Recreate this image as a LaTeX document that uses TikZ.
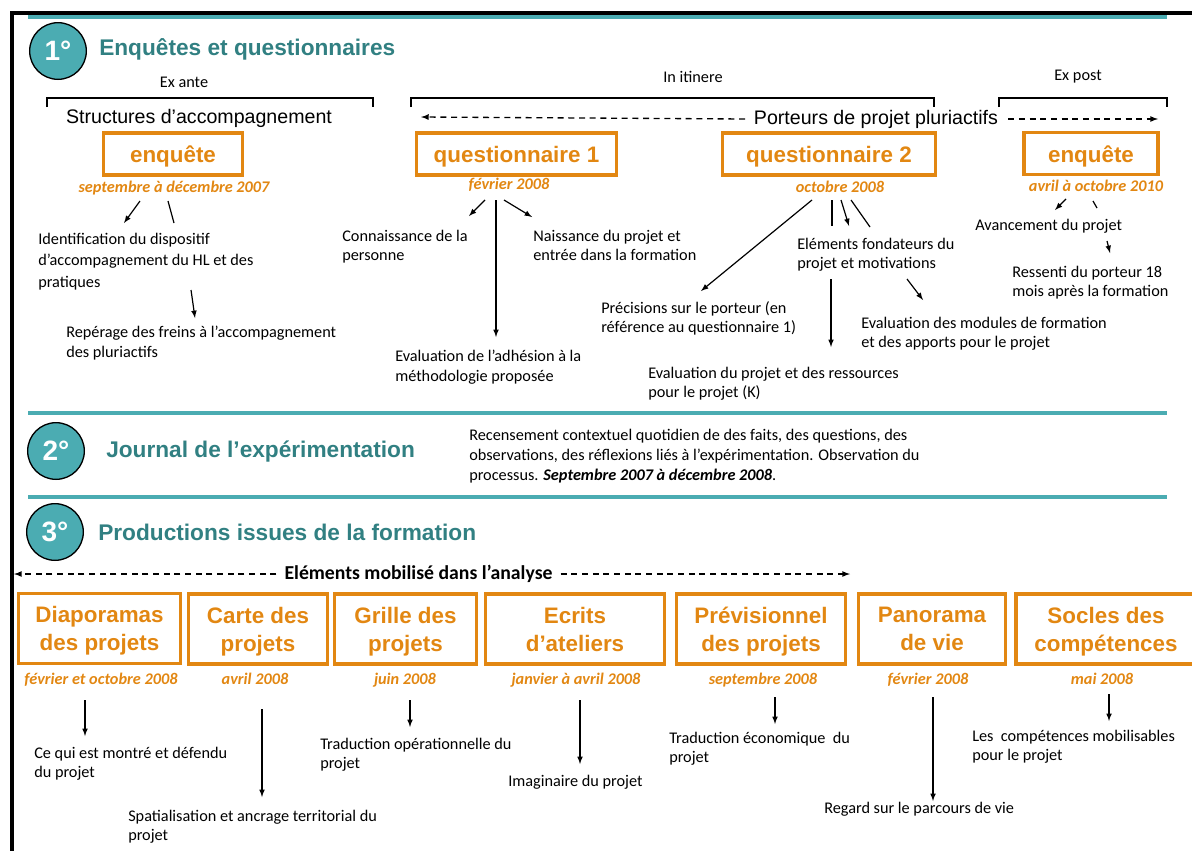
\documentclass[tikz,border=0pt]{standalone}
\usepackage{fontspec}
\setmainfont{Carlito}
\newfontfamily\arialfont{Liberation Sans}
\usetikzlibrary{shapes,arrows,positioning}
\definecolor{orng}{RGB}{226,135,18}
\definecolor{tealc}{RGB}{75,172,178}
\definecolor{tealdk}{RGB}{49,128,130}

\begin{document}
\begin{tikzpicture}[x=0.75pt,y=-0.75pt,
    obox/.style={draw=orng, line width=2.5pt, text=orng, align=center, inner sep=0pt,
        text depth=0pt, font=\arialfont\bfseries\fontsize{16.8}{21}\selectfont},
    datelbl/.style={text=orng, inner sep=0pt, text height=9pt, text depth=2.5pt,
        font=\bfseries\itshape\fontsize{12.2}{14}\selectfont},
    txt/.style={anchor=north west, inner sep=0pt, align=left,
        font=\fontsize{12.2}{14.5}\selectfont},
    numcirc/.style={circle, draw=black, line width=1pt, fill=tealc, text=white,
        minimum size=42.5pt, inner sep=0pt, font=\arialfont\bfseries\fontsize{21}{21}\selectfont},
    sectitle/.style={anchor=west, inner sep=0pt, text=tealdk,
        font=\arialfont\bfseries\fontsize{17}{20}\selectfont},
    arr/.style={-latex, line width=0.9pt},
    lnk/.style={line width=0.9pt},
    dasharr/.style={-latex, line width=1pt, dash pattern=on 4.5pt off 3.5pt},
    sepline/.style={tealc, line width=3pt}]

    \useasboundingbox (0,0) rectangle (1192,850);
    \clip (0,0) rectangle (1192,850);

    % Frame and separators
    \draw[line width=3pt] (12,852) -- (12,12.5) -- (1195,12.5);
    \draw[sepline] (28,17) -- (1167,17);
    \draw[sepline] (28,413) -- (1167,413);
    \draw[sepline] (28,497) -- (1167,497);

    % 1 - Enquetes et questionnaires
    \node[numcirc] (c1) at (58,51) {1°};
    \node[sectitle] (t1) at (99,49) {Enquêtes et questionnaires};

    % Periods
    \node[font=\fontsize{12.2}{14}\selectfont] (exante) at (184,82) {Ex ante};
    \node[font=\fontsize{12.2}{14}\selectfont] (itinere) at (693,77) {In itinere};
    \node[font=\fontsize{12.2}{14}\selectfont] (expost) at (1078,77) {Ex post};
    \draw[line width=1.5pt] (46.5,107) -- (46.5,97.5) -- (373,97.5) -- (373,107);
    \draw[line width=1.5pt] (411,107) -- (411,97.5) -- (934,97.5) -- (934,107);
    \draw[line width=1.5pt] (999,107) -- (999,97.5) -- (1167,97.5) -- (1167,107);

    \node[font=\arialfont\fontsize{14.7}{17}\selectfont, inner sep=0pt] (struct) at (199,118) {Structures d’accompagnement};
    \node[font=\arialfont\fontsize{14.7}{17}\selectfont, inner sep=0pt] (porteurs) at (876,119) {Porteurs de projet pluriactifs};
    \coordinate (portL) at (421,117);
    \coordinate (portR) at (1158,119);
    \draw[dasharr] ([xshift=-6.5pt]porteurs.west) -- (portL);
    \draw[dasharr] ([xshift=7.5pt]porteurs.east) -- (portR);

    % Boxes
    \node[obox, text height=13pt, minimum width=104.25pt, minimum height=31.5pt] (enqA) at (173,154) {enquête};
    \node[obox, text height=13pt, minimum width=150pt, minimum height=31.5pt] (quest1) at (516.5,154) {questionnaire 1};
    \node[obox, text height=13pt, minimum width=159.75pt, minimum height=31.5pt] (quest2) at (829,154) {questionnaire 2};
    \node[obox, text height=13pt, minimum width=100.5pt, minimum height=31.5pt] (enqB) at (1091,153.5) {enquête};

    \node[datelbl] (dA) at (174,188) {septembre à décembre 2007};
    \node[datelbl] (dQ1) at (509,185) {février 2008};
    \node[datelbl] (dQ2) at (840,188) {octobre 2008};
    \node[datelbl] (dB) at (1096,187) {avril à octobre 2010};

    % Contents
    \node[txt] (ident) at (38,233) {Identification du dispositif\\[1pt]d’accompagnement du HL et des\\[2.5pt]pratiques};
    \node[txt] (freins) at (66,326) {Repérage des freins à l’accompagnement\\des pluriactifs};
    \node[txt] (conn) at (342,230) {Connaissance de la\\personne};
    \node[txt] (naiss) at (533,230) {Naissance du projet et\\entrée dans la formation};
    \node[txt] (adh) at (395,350) {Evaluation de l’adhésion à la\\méthodologie proposée};
    \node[txt] (prec) at (601,301) {Précisions sur le porteur (en\\référence au questionnaire 1)};
    \node[txt] (fond) at (797,238) {Eléments fondateurs du\\projet et motivations};
    \node[txt] (modules) at (861,317) {Evaluation des modules de formation\\et des apports pour le projet};
    \node[txt] (evalk) at (648,367) {Evaluation du projet et des ressources\\pour le projet (K)};
    \node[txt] (avanc) at (975,219) {Avancement du projet};
    \node[txt] (ress) at (1012,266) {Ressenti du porteur 18\\mois après la formation};

    \draw[arr] ([shift={(-34,13)}]dA.center) -- ([shift={(86,-10)}]ident.north west);
    \draw[lnk] ([shift={(-6,13)}]dA.center) -- ([shift={(136,-10)}]ident.north west);
    \draw[arr] ([shift={(153,57)}]ident.north west) -- ([shift={(129,-8)}]freins.north west);

    \draw[arr] ([shift={(-24,15)}]dQ1.center) -- ([shift={(127,-14)}]conn.north west);
    \draw[arr] ([shift={(-13,15)}]dQ1.center) -- ([shift={(101,-13)}]adh.north west);
    \draw[arr] ([shift={(-5,15)}]dQ1.center) -- ([shift={(-1,-13)}]naiss.north west);

    \draw[arr] ([shift={(-28,12)}]dQ2.center) -- ([shift={(100,-10)}]prec.north west);
    \draw[lnk] ([shift={(-8,12)}]dQ2.center) -- ([shift={(35,-12)}]fond.north west);
    \draw[arr] ([shift={(1,12)}]dQ2.center) -- ([shift={(52,-12)}]fond.north west);
    \draw[lnk] ([shift={(11,12)}]dQ2.center) -- ([shift={(73,-11)}]fond.north west);
    \draw[arr] ([shift={(34,41)}]fond.north west) -- ([shift={(183,-20)}]evalk.north west);
    \draw[arr] ([shift={(110,41)}]fond.north west) -- ([shift={(62,-17)}]modules.north west);

    \draw[arr] ([shift={(-30,12)}]dB.center) -- ([shift={(80,-9)}]avanc.north west);
    \draw[lnk] ([shift={(-3,14)}]dB.center) -- ([shift={(122,-11)}]avanc.north west);
    \draw[arr] ([shift={(132,22)}]avanc.north west) -- ([shift={(98,-13)}]ress.north west);

    % 2 - Journal
    \node[numcirc] (c2) at (56,451) {2°};
    \node[sectitle] (t2) at (106,452) {Journal de l’expérimentation};
    \node[txt, font=\fontsize{12.2}{15}\selectfont] (journal) at (469,429) {Recensement contextuel quotidien de des faits, des questions, des\\observations, des réflexions liés à l’expérimentation. Observation du\\processus. \textbf{\textit{Septembre 2007 à décembre 2008}}.};

    % 3 - Productions
    \node[numcirc] (c3) at (55,532) {3°};
    \node[sectitle] (t3) at (98,532) {Productions issues de la formation};

    \node[font=\bfseries\fontsize{14.8}{17}\selectfont, inner sep=0pt] (mobil) at (418.5,574) {Eléments mobilisé dans l’analyse};
    \coordinate (mobilL) at (14,574);
    \coordinate (mobilR) at (850,574);
    \draw[dasharr] ([xshift=-6pt]mobil.west) -- (mobilL);
    \draw[dasharr] ([xshift=6pt]mobil.east) -- (mobilR);

    \node[obox, minimum width=121.5pt, minimum height=52.5pt] (diap) at (99.5,628.5) {Diaporamas\\des projets};
    \node[obox, minimum width=104.25pt, minimum height=52.5pt] (carte) at (258,629) {Carte des\\projets};
    \node[obox, minimum width=106.5pt, minimum height=52.5pt] (grille) at (405.5,629) {Grille des\\projets};
    \node[obox, minimum width=134.25pt, minimum height=52.5pt] (ecrits) at (575,629) {Ecrits\\d’ateliers};
    \node[obox, minimum width=126.75pt, minimum height=52.5pt] (prev) at (761,629) {Prévisionnel\\des projets};
    \node[obox, minimum width=110.25pt, minimum height=52.5pt] (pano) at (932,629) {Panorama\\de vie};
    \node[obox, minimum width=135pt, minimum height=52.5pt] (socles) at (1106,629) {Socles des\\compétences};

    \node[datelbl] (ddiap) at (101,680) {février et octobre 2008};
    \node[datelbl] (dcarte) at (255,680) {avril 2008};
    \node[datelbl] (dgrille) at (405,680) {juin 2008};
    \node[datelbl] (decrits) at (576,680) {janvier à avril 2008};
    \node[datelbl] (dprev) at (763,680) {septembre 2008};
    \node[datelbl] (dpano) at (928,680) {février 2008};
    \node[datelbl] (dsocles) at (1102,680) {mai 2008};

    \node[txt] (tdiap) at (34,747) {Ce qui est montré et défendu\\du projet};
    \node[txt] (tcarte) at (128,810) {Spatialisation et ancrage territorial du\\projet};
    \node[txt] (tgrille) at (320,738) {Traduction opérationnelle du\\projet};
    \node[txt] (tecrits) at (508,775) {Imaginaire du projet};
    \node[txt] (tprev) at (669,732) {Traduction économique\ \ du\\projet};
    \node[txt] (tpano) at (824,802) {Regard sur le parcours de vie};
    \node[txt] (tsocles) at (972,730) {Les\ \ compétences mobilisables\\pour le projet};

    \draw[arr] ([shift={(-16,20)}]ddiap.center) -- ([shift={(51,-11)}]tdiap.north west);
    \draw[arr] ([shift={(7,29)}]dcarte.center) -- ([shift={(134,-13)}]tcarte.north west);
    \draw[arr] ([shift={(5,20)}]dgrille.center) -- ([shift={(90,-11)}]tgrille.north west);
    \draw[arr] ([shift={(4,20)}]decrits.center) -- ([shift={(72,-11)}]tecrits.north west);
    \draw[arr] ([shift={(12,17)}]dprev.center) -- ([shift={(106,-8)}]tprev.north west);
    \draw[arr] ([shift={(5,17)}]dpano.center) -- ([shift={(109,-1)}]tpano.north west);
    \draw[arr] ([shift={(7,14)}]dsocles.center) -- ([shift={(137,-9)}]tsocles.north west);
\end{tikzpicture}
\end{document}
